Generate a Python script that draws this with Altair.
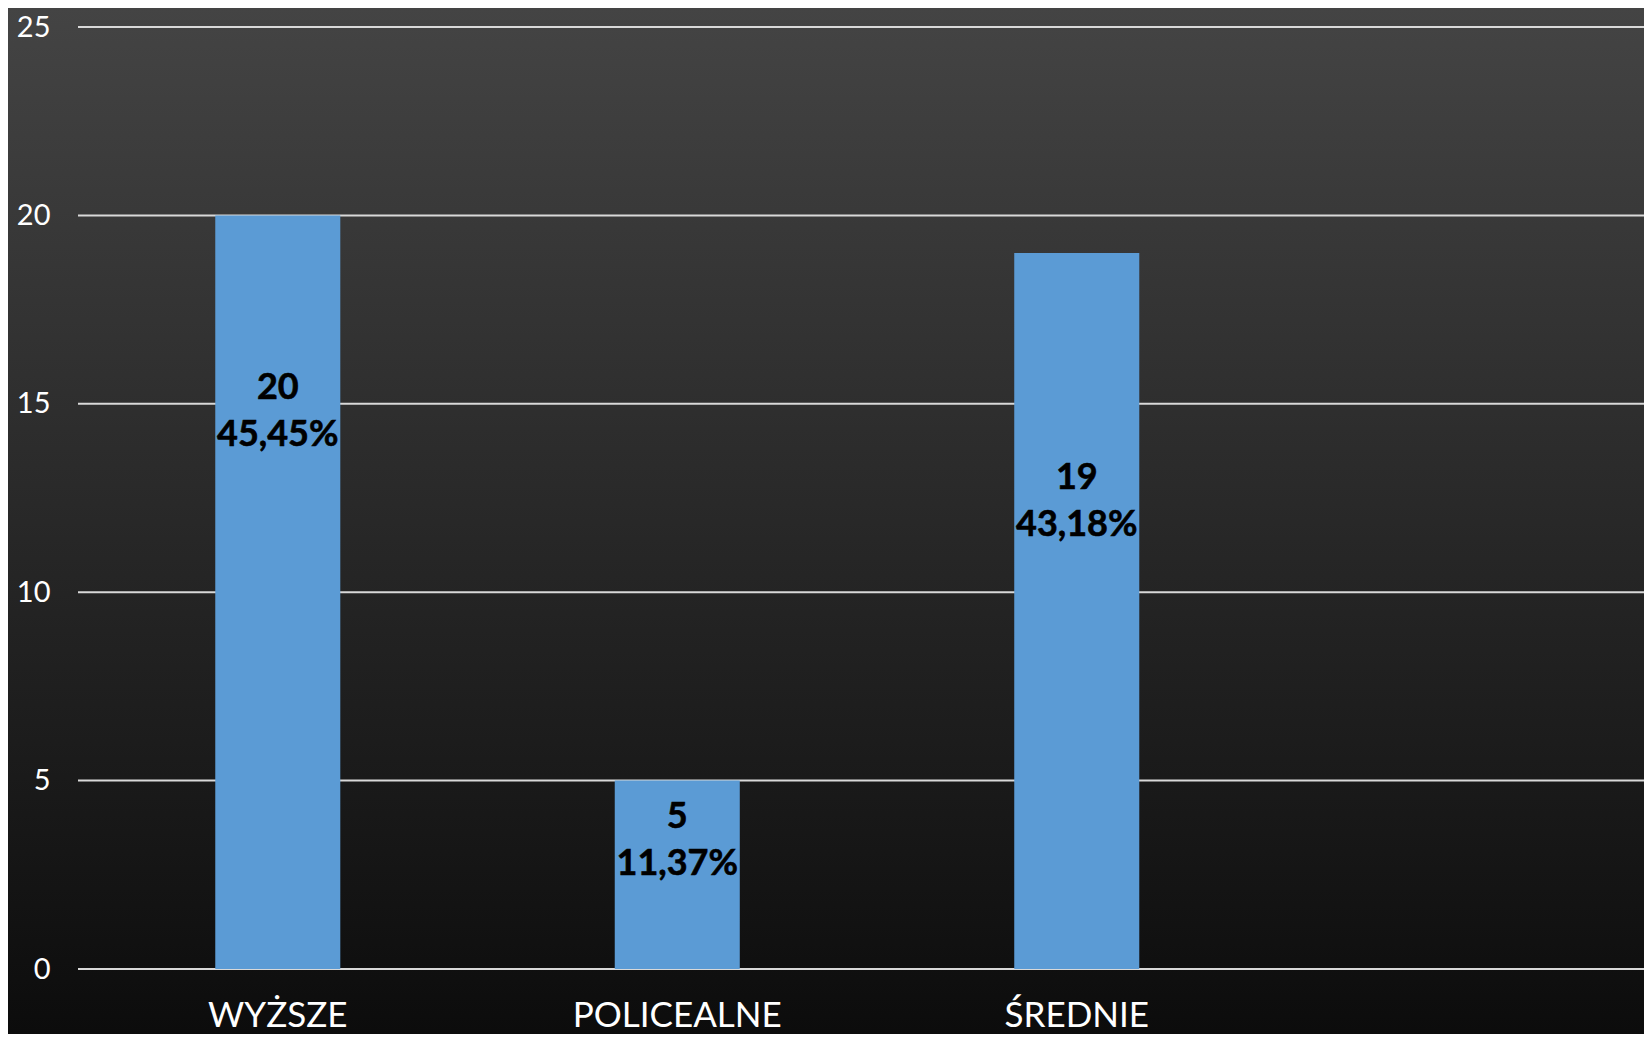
import altair as alt
import pandas as pd

categories = ["WYŻSZE", "POLICEALNE", "ŚREDNIE"]
counts = [20, 5, 19]
percents = ["45,45%", "11,37%", "43,18%"]
label_anchor = [14.8, 3.4, 12.4]
y_ticks = [0, 5, 10, 15, 20, 25]

df = pd.DataFrame({"cat": categories, "count": counts, "pct": percents, "anchor": label_anchor})
grid_df = pd.DataFrame({"v": y_ticks})

W, H = 1566, 942
PL, PT, PB = 70, 19, 65

xscale = alt.Scale(domain=categories, paddingInner=0.687, paddingOuter=0.8035, align=0.2138)
xaxis = alt.Axis(title=None, labelAngle=0, labelFont="Lato", labelFontSize=35, labelColor="#ffffff",
                 labelPadding=57, labelBaseline="alphabetic", labelLimit=0, ticks=False, tickSize=0,
                 domain=False, grid=False, zindex=1)
yscale = alt.Scale(domain=[0, 25], nice=False, zero=True)
yaxis = alt.Axis(title=None, values=y_ticks, labelFont="Lato", labelFontSize=29, labelColor="#ffffff",
                 labelPadding=28, ticks=False, tickSize=0, domain=False, grid=False, zindex=1)

grad = alt.LinearGradient(
    gradient="linear",
    stops=[alt.GradientStop(color="#444444", offset=0), alt.GradientStop(color="#0c0c0c", offset=1)],
    x1=0, x2=0, y1=0, y2=1,
)

bg = alt.Chart(alt.Data(values=[{"a": 1}])).mark_rect(color=grad).encode(
    x=alt.value(-PL), x2=alt.value(W), y=alt.value(-PT), y2=alt.value(H + PB)
)

rules = alt.Chart(grid_df).mark_rule(color="#d9d9d9", strokeWidth=2).encode(
    y=alt.Y("v:Q", scale=yscale, axis=yaxis),
    x=alt.value(0), x2=alt.value(W),
)

bars = alt.Chart(df).mark_bar(color="#5b9bd5").encode(
    x=alt.X("cat:N", scale=xscale, axis=xaxis),
    y=alt.Y("count:Q", scale=yscale, axis=yaxis),
)

t1 = alt.Chart(df).mark_text(font="Lato", fontSize=36, fontWeight="bold", color="#000000",
                             stroke="#000000", strokeWidth=0.6,
                             baseline="middle", dy=-23.5).encode(
    x=alt.X("cat:N", scale=xscale, axis=xaxis),
    y=alt.Y("anchor:Q", scale=yscale, axis=yaxis),
    text="count:Q",
)
t2 = alt.Chart(df).mark_text(font="Lato", fontSize=36, fontWeight="bold", color="#000000",
                             stroke="#000000", strokeWidth=0.6,
                             baseline="middle", dy=23.5).encode(
    x=alt.X("cat:N", scale=xscale, axis=xaxis),
    y=alt.Y("anchor:Q", scale=yscale, axis=yaxis),
    text="pct:N",
)

chart = alt.layer(bg, rules, bars, t1, t2).properties(
    width=W, height=H,
    padding={"left": PL, "top": PT, "right": 0, "bottom": PB},
    autosize=alt.AutoSizeParams(type="none"),
    background="#262626",
).configure_view(stroke=None)

chart.save("out.html", embed_options={"renderer": "svg", "actions": False})
